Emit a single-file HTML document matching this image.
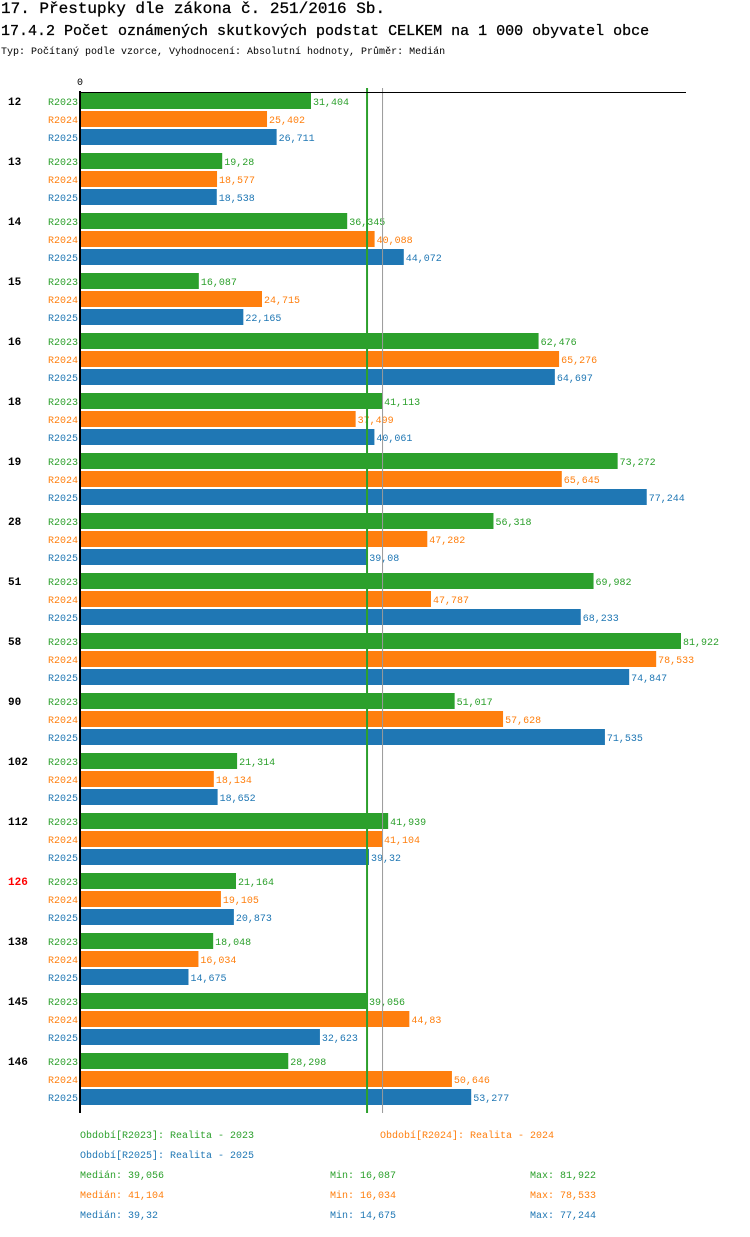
<!DOCTYPE html>
<html><head><meta charset="utf-8"><style>
body{margin:0;background:#fff;width:750px;height:1232px;overflow:hidden}
svg text{font-family:"Liberation Mono",monospace}
</style></head><body>
<svg id="chart" width="750" height="1232" xmlns="http://www.w3.org/2000/svg">
<text x="1" y="13" font-size="16" fill="#000" stroke="#000" stroke-width="0.3">17. Přestupky dle zákona č. 251/2016 Sb.</text>
<text x="1" y="35" font-size="15" fill="#000" stroke="#000" stroke-width="0.3">17.4.2 Počet oznámených skutkových podstat CELKEM na 1 000 obyvatel obce</text>
<text x="1" y="54" font-size="10" fill="#000">Typ: Počítaný podle vzorce, Vyhodnocení: Absolutní hodnoty, Průměr: Medián</text>
<text x="77" y="85" font-size="10" fill="#000">0</text>
<g id="bars"></g>
<g id="legend"></g>
</svg>
<script>
const categories=["12","13","14","15","16","18","19","28","51","58","90","102","112","126","138","145","146"];
const r2023=[31.404,19.28,36.345,16.087,62.476,41.113,73.272,56.318,69.982,81.922,51.017,21.314,41.939,21.164,18.048,39.056,28.298];
const r2024=[25.402,18.577,40.088,24.715,65.276,37.499,65.645,47.282,47.787,78.533,57.628,18.134,41.104,19.105,16.034,44.83,50.646];
const r2025=[26.711,18.538,44.072,22.165,64.697,40.061,77.244,39.08,68.233,74.847,71.535,18.652,39.32,20.873,14.675,32.623,53.277];
const seriesNames=["R2023","R2024","R2025"];
const colors=["#2ca02c","#ff7f0e","#1f77b4"];
const medians=[39.056,41.104,39.32];
const mins=[16.087,16.034,14.675];
const maxs=[81.922,78.533,77.244];
const highlighted=["126"];
const NS="http://www.w3.org/2000/svg";
const X0=81,SC=7.324;
const xs=v=>X0+v*SC;
const gy=i=>93+i*60;
const fmt=v=>String(v).replace('.',',');
function mk(t,a,p){const e=document.createElementNS(NS,t);for(const k in a)e.setAttribute(k,a[k]);p.appendChild(e);return e;}
const g=document.getElementById('bars');
const data=[r2023,r2024,r2025];
categories.forEach((c,i)=>{
  const t=mk('text',{x:8,y:gy(i)+12,'font-size':11,'font-weight':'bold',fill:highlighted.includes(c)?'#ff0000':'#000'},g);
  
  
  t.textContent=c;
  data.forEach((s,j)=>{
    const y=gy(i)+j*18;
    const l=mk('text',{x:78,y:y+12,'font-size':10,'text-anchor':'end',fill:colors[j]},g);
    
    
    l.textContent=seriesNames[j];
    const r=mk('rect',{x:X0,y:y,width:xs(s[i])-X0,height:16,fill:colors[j]},g);
    
    
    const v=mk('text',{x:xs(s[i])+2,y:y+12,'font-size':10,fill:colors[j]},g);
    
    
    v.textContent=fmt(s[i]);
  });
});
const bottomY=gy(categories.length-1)+54+6;
const ml=mk('line',{x1:xs(medians[0]),x2:xs(medians[0]),y1:88,y2:bottomY,stroke:colors[0],'stroke-width':2},g);


const ml2=mk('line',{x1:xs(medians[1])+0.5,x2:xs(medians[1])+0.5,y1:88,y2:bottomY,stroke:'#999','stroke-width':1},g);


const ax=mk('line',{x1:80,x2:80,y1:91,y2:bottomY,stroke:'#000','stroke-width':2},g);


const topLine=mk('line',{x1:79,x2:686,y1:92.5,y2:92.5,stroke:'#000','stroke-width':1},g);


const lg=document.getElementById('legend');
const legPos=[[80,1138],[380,1138],[80,1158]];
seriesNames.forEach((n,j)=>{
  const t=mk('text',{x:legPos[j][0],y:legPos[j][1],'font-size':10,fill:colors[j]},lg);
  
  
  t.textContent='Období['+n+']: Realita - '+n.slice(1);
  const y=1178+j*20;
  [['Medián: ',medians[j],80],['Min: ',mins[j],330],['Max: ',maxs[j],530]].forEach(([k,v,xx])=>{
    const s=mk('text',{x:xx,y:y,'font-size':10,fill:colors[j]},lg);
    
    
    s.textContent=k+fmt(v);
  });
});
</script>
</body></html>
